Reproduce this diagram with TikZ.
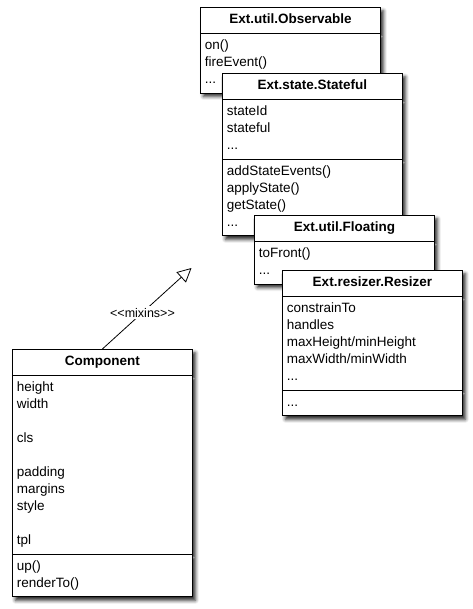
\documentclass[tikz,border=0pt]{standalone}
\usepackage{fontspec}
\setmainfont{Liberation Sans}
\usetikzlibrary{shapes.multipart, shadows.blur, arrows.meta}

\newcommand{\classfont}{\fontsize{13.5}{17}\selectfont}
\newcommand{\stereofont}{\fontsize{12.5}{15}\selectfont}
\newcommand{\classname}[1]{\strut\hfill\textbf{#1}\hfill\null}

\begin{document}
\begin{tikzpicture}[x=1pt, y=-1pt,
    umlclass/.style={rectangle split, rectangle split parts=3, draw, line width=0.8pt,
      fill=white, anchor=north west, text width=171pt, inner xsep=4.5pt, inner ysep=4pt,
      align=left, font=\classfont,
      blur shadow={shadow xshift=3pt, shadow yshift=-3.5pt, shadow blur radius=3.5pt, shadow opacity=85}},
    mixin/.style={-{Triangle[open, length=14pt, width=14pt]}, line width=0.8pt},
    stereo/.style={fill=white, inner sep=1.5pt, font=\stereofont}]
  \useasboundingbox (0,0) rectangle (472,609);

  % the mixin classes, back to front
  \node[umlclass, rectangle split parts=2] (observable) at (200,7)
    {\classname{Ext.util.Observable}
     \nodepart{second}\strut on()\\ fireEvent()\\ ...\strut};
  \node[umlclass] (stateful) at (222,73)
    {\classname{Ext.state.Stateful}
     \nodepart{second}\strut stateId\\ stateful\\ ...\strut
     \nodepart{third}\strut addStateEvents()\\ applyState()\\ getState()\\ ...\strut};
  \node[umlclass, rectangle split parts=2] (floating) at (254,215)
    {\classname{Ext.util.Floating}
     \nodepart{second}\strut toFront()\\ ...\strut};
  \node[umlclass] (resizer) at (282,270)
    {\classname{Ext.resizer.Resizer}
     \nodepart{second}\strut constrainTo\\ handles\\ maxHeight/minHeight\\ maxWidth/minWidth\\ ...\strut
     \nodepart{third}\strut ...\strut};

  % the component itself
  \node[umlclass] (component) at (12,349)
    {\classname{Component}
     \nodepart{second}\strut height\\ width\\ \strut\\ cls\\ \strut\\ padding\\ margins\\ style\\ \strut\\ tpl\strut
     \nodepart{third}\strut up()\\ renderTo()\strut};

  \coordinate (mixtip) at (191.5,268);
  \draw[mixin] (component.north) -- node[pos=0.45, stereo] {<\kern0pt<mixins>\kern0pt>} (mixtip);
\end{tikzpicture}
\end{document}
